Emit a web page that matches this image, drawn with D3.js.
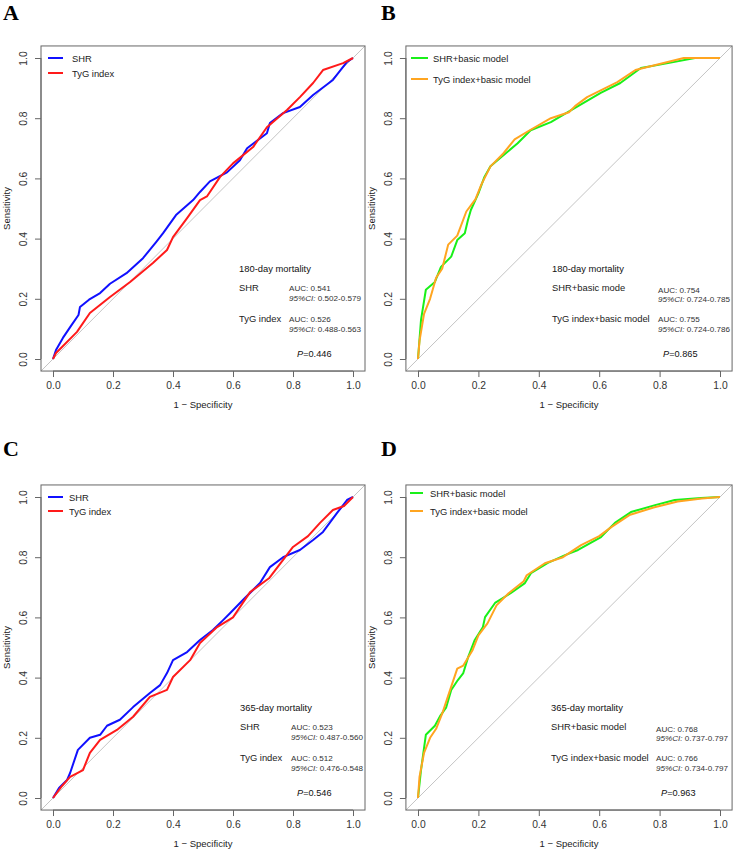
<!DOCTYPE html>
<html>
<head>
<meta charset="utf-8">
<script src="https://cdn.jsdelivr.net/npm/d3@7"></script>
<style>
  body { margin: 0; background: #fff; }
  svg { font-family: "Liberation Sans", Arial, sans-serif; }
</style>
</head>
<body>
<div id="chart"></div>
<script>
// Tick values shared by both axes
var tickValues = [0, 0.2, 0.4, 0.6, 0.8, 1.0];

// ROC points: [1 - specificity, sensitivity]
var shr180 = [[0,0],[0.01,0.03],[0.033,0.07],[0.06,0.11],[0.085,0.146],[0.09,0.173],[0.12,0.197],[0.157,0.219],[0.19,0.25],[0.245,0.285],[0.3,0.335],[0.345,0.39],[0.367,0.418],[0.41,0.478],[0.467,0.528],[0.49,0.555],[0.523,0.59],[0.58,0.62],[0.623,0.66],[0.647,0.70],[0.713,0.75],[0.723,0.784],[0.767,0.817],[0.823,0.837],[0.867,0.877],[0.933,0.927],[0.98,0.987],[1,1]];
var tyg180 = [[0,0],[0.01,0.02],[0.03,0.04],[0.08,0.09],[0.123,0.153],[0.19,0.206],[0.257,0.256],[0.333,0.319],[0.38,0.362],[0.4,0.405],[0.447,0.468],[0.49,0.528],[0.513,0.54],[0.557,0.605],[0.6,0.65],[0.667,0.704],[0.713,0.77],[0.78,0.827],[0.823,0.87],[0.867,0.917],[0.9,0.96],[0.967,0.983],[1,1]];
var shrModel180 = [[0,0],[0.01,0.13],[0.026,0.23],[0.056,0.256],[0.076,0.306],[0.11,0.34],[0.13,0.395],[0.155,0.418],[0.165,0.46],[0.175,0.495],[0.19,0.528],[0.2,0.55],[0.22,0.605],[0.24,0.64],[0.275,0.67],[0.33,0.717],[0.373,0.76],[0.44,0.787],[0.52,0.834],[0.605,0.884],[0.67,0.917],[0.738,0.967],[0.828,0.983],[0.917,1],[1,1]];
var tygModel180 = [[0,0],[0.005,0.06],[0.02,0.15],[0.04,0.2],[0.06,0.27],[0.08,0.3],[0.1,0.38],[0.13,0.41],[0.16,0.49],[0.19,0.53],[0.21,0.58],[0.24,0.64],[0.28,0.68],[0.32,0.73],[0.37,0.76],[0.44,0.8],[0.5,0.82],[0.52,0.84],[0.56,0.87],[0.6,0.89],[0.66,0.92],[0.72,0.96],[0.8,0.98],[0.88,1],[1,1]];
var shr365 = [[0,0],[0.02,0.033],[0.047,0.06],[0.057,0.083],[0.083,0.16],[0.123,0.2],[0.157,0.21],[0.18,0.24],[0.223,0.26],[0.267,0.302],[0.323,0.349],[0.357,0.375],[0.38,0.415],[0.4,0.458],[0.447,0.485],[0.49,0.525],[0.533,0.558],[0.567,0.591],[0.59,0.614],[0.633,0.658],[0.69,0.714],[0.723,0.767],[0.767,0.8],[0.823,0.824],[0.867,0.857],[0.9,0.884],[0.947,0.947],[0.98,0.99],[1,1]];
var tyg365 = [[0,0],[0.03,0.04],[0.057,0.07],[0.1,0.093],[0.123,0.15],[0.157,0.193],[0.213,0.226],[0.267,0.27],[0.323,0.336],[0.38,0.359],[0.4,0.402],[0.457,0.458],[0.49,0.515],[0.547,0.568],[0.6,0.6],[0.657,0.684],[0.72,0.73],[0.8,0.834],[0.85,0.87],[0.89,0.914],[0.933,0.957],[0.97,0.97],[1,1]];
var shrModel365 = [[0,0],[0.01,0.093],[0.026,0.21],[0.056,0.24],[0.073,0.272],[0.093,0.3],[0.11,0.359],[0.132,0.392],[0.15,0.415],[0.166,0.468],[0.188,0.525],[0.215,0.568],[0.222,0.601],[0.255,0.648],[0.308,0.681],[0.354,0.714],[0.374,0.747],[0.43,0.781],[0.487,0.807],[0.53,0.824],[0.606,0.867],[0.652,0.914],[0.705,0.95],[0.785,0.973],[0.85,0.99],[0.937,0.997],[1,1]];
var tygModel365 = [[0,0],[0.005,0.07],[0.02,0.15],[0.04,0.2],[0.06,0.23],[0.08,0.28],[0.1,0.34],[0.13,0.43],[0.15,0.44],[0.18,0.49],[0.2,0.54],[0.23,0.58],[0.26,0.64],[0.3,0.68],[0.35,0.72],[0.36,0.74],[0.42,0.78],[0.48,0.8],[0.54,0.84],[0.6,0.87],[0.64,0.9],[0.7,0.94],[0.78,0.965],[0.86,0.985],[0.94,0.995],[1,1]];

// Labels and statistics
var panelLetters = ["A", "B", "C", "D"];
var legendSimple = ["SHR", "TyG index"];
var legendModel = ["SHR+basic model", "TyG index+basic model"];
var namesB = ["SHR+basic mode", "TyG index+basic model"];
var outcomeTitles = ["180-day mortality", "180-day mortality", "365-day mortality", "365-day mortality"];
var aucA = ["0.541", "0.526"], ciA = ["0.502-0.579", "0.488-0.563"];
var aucB = ["0.754", "0.755"], ciB = ["0.724-0.785", "0.724-0.786"];
var aucC = ["0.523", "0.512"], ciC = ["0.487-0.560", "0.476-0.548"];
var aucD = ["0.768", "0.766"], ciD = ["0.737-0.797", "0.734-0.797"];
var pValues = ["0.446", "0.865", "0.546", "0.963"];

var svgWidth = 735;
var svgHeight = 852;

var svg = d3.select("#chart")
  .append("svg")
  .attr("width", svgWidth)
  .attr("height", svgHeight);

// panel layout (pixel positions of 0 and 1 on each axis)
var panels = [
  { x0: 53, x1: 353, y0: 359, y1: 58, letterX: 3, letterY: 20,
    series: [shr180, tyg180], colors: ["#1010ff", "#ff1a1a"], legend: legendSimple,
    legendX: [48, 63, 72], legendY: [58, 73],
    names: legendSimple, auc: aucA, ci: ciA, textX: 239, statX: 289, pX: 297 },
  { x0: 418, x1: 720, y0: 359, y1: 58, letterX: 381, letterY: 20,
    series: [shrModel180, tygModel180], colors: ["#19f019", "#ffa520"], legend: legendModel,
    legendX: [411, 428, 433], legendY: [58, 79],
    names: namesB, auc: aucB, ci: ciB, textX: 552, statX: 658, pX: 663 },
  { x0: 53, x1: 353, y0: 798, y1: 497, letterX: 3, letterY: 456,
    series: [shr365, tyg365], colors: ["#1010ff", "#ff1a1a"], legend: legendSimple,
    legendX: [48, 63, 69], legendY: [497, 511],
    names: legendSimple, auc: aucC, ci: ciC, textX: 240, statX: 291, pX: 297 },
  { x0: 418, x1: 720, y0: 798, y1: 497, letterX: 381, letterY: 456,
    series: [shrModel365, tygModel365], colors: ["#19f019", "#ffa520"], legend: legendModel,
    legendX: [410, 423, 430], legendY: [493, 511],
    names: legendModel, auc: aucD, ci: ciD, textX: 551, statX: 656, pX: 661 }
];

panels.forEach(function(p, i) {
  var xScale = d3.scaleLinear().domain([0, 1]).range([p.x0, p.x1]);
  var yScale = d3.scaleLinear().domain([0, 1]).range([p.y0, p.y1]);
  var g = svg.append("g");

  var left = xScale(-0.04), right = xScale(1.04);
  var top = yScale(1.04), bottom = yScale(-0.04);

  // panel letter
  svg.append("text")
    .attr("x", p.letterX)
    .attr("y", p.letterY)
    .attr("font-family", "'Liberation Serif', 'Times New Roman', serif")
    .attr("font-weight", "bold")
    .attr("font-size", 22)
    .text(panelLetters[i]);

  // diagonal reference
  g.append("line")
    .attr("x1", xScale(-0.04)).attr("y1", yScale(-0.04))
    .attr("x2", xScale(1.04)).attr("y2", yScale(1.04))
    .attr("stroke", "#c4c4c4")
    .attr("stroke-width", 1);

  // axes
  var bottomAxis = d3.axisBottom(xScale).tickValues(tickValues).tickFormat(d3.format(".1f")).tickSize(6).tickPadding(5);
  var leftAxis = d3.axisLeft(yScale).tickValues(tickValues).tickFormat(d3.format(".1f")).tickSize(6);

  var xg = g.append("g")
    .attr("transform", "translate(0," + bottom + ")")
    .call(bottomAxis);
  var yg = g.append("g")
    .attr("transform", "translate(" + left + ",0)")
    .call(leftAxis);

  [xg, yg].forEach(function(a) {
    a.select(".domain").attr("stroke", "#666");
    a.selectAll(".tick line").attr("stroke", "#666");
    a.selectAll(".tick text")
      .attr("font-family", "'Liberation Sans', Arial, sans-serif")
      .attr("font-size", 10.3)
      .attr("fill", "#333");
  });
  xg.select(".domain").attr("d", "M" + xScale(0) + ",0H" + xScale(1));
  yg.select(".domain").attr("d", "M0," + yScale(0) + "V" + yScale(1));
  yg.selectAll(".tick text")
    .attr("transform", "rotate(-90,-12,0)")
    .attr("x", -12)
    .attr("y", 0)
    .attr("dy", "-0.2em")
    .attr("text-anchor", "middle");

  // frame
  g.append("rect")
    .attr("x", left).attr("y", top)
    .attr("width", right - left).attr("height", bottom - top)
    .attr("fill", "none")
    .attr("stroke", "#666")
    .attr("stroke-width", 1);

  // axis titles
  g.append("text")
    .attr("x", (xScale(0) + xScale(1)) / 2)
    .attr("y", bottom + 37)
    .attr("text-anchor", "middle")
    .attr("font-size", 9.5)
    .attr("fill", "#222")
    .text("1 \u2212 Specificity");

  g.append("text")
    .attr("transform", "translate(" + (left - 31) + "," + ((top + bottom) / 2) + ") rotate(-90)")
    .attr("text-anchor", "middle")
    .attr("font-size", 9.5)
    .attr("fill", "#222")
    .text("Sensitivity");

  // ROC curves
  var line = d3.line()
    .x(function(d) { return xScale(d[0]); })
    .y(function(d) { return yScale(d[1]); });

  p.series.forEach(function(s, k) {
    g.append("path")
      .datum(s)
      .attr("d", line)
      .attr("fill", "none")
      .attr("stroke", p.colors[k])
      .attr("stroke-width", 2)
      .attr("stroke-linejoin", "round");
  });

  // legend
  p.legend.forEach(function(label, k) {
    g.append("line")
      .attr("x1", p.legendX[0]).attr("x2", p.legendX[1])
      .attr("y1", p.legendY[k]).attr("y2", p.legendY[k])
      .attr("stroke", p.colors[k])
      .attr("stroke-width", 2);
    g.append("text")
      .attr("x", p.legendX[2])
      .attr("y", p.legendY[k] + 3.5)
      .attr("font-size", 9.4)
      .attr("fill", "#222")
      .text(label);
  });

  // annotation block
  g.append("text")
    .attr("x", p.textX).attr("y", bottom - 99)
    .attr("font-size", 9.4).attr("fill", "#111")
    .text(outcomeTitles[i]);

  var rowY = [bottom - 80, bottom - 49];
  p.names.forEach(function(name, k) {
    g.append("text")
      .attr("x", p.textX).attr("y", rowY[k])
      .attr("font-size", 9.4).attr("fill", "#222")
      .text(name);
    g.append("text")
      .attr("x", p.statX).attr("y", rowY[k] + (i % 2 === 1 && k === 0 ? 2 : 0))
      .attr("font-size", 8.1).attr("fill", "#333")
      .text("AUC: " + p.auc[k]);
    var ci = g.append("text")
      .attr("x", p.statX).attr("y", rowY[k] + 10 + (i % 2 === 1 && k === 0 ? 1 : 0))
      .attr("font-size", 8.1).attr("fill", "#333");
    ci.append("tspan").attr("font-style", "italic").text("95%CI:");
    ci.append("tspan").text(" " + p.ci[k]);
  });

  var pt = g.append("text")
    .attr("x", p.pX).attr("y", bottom - 14)
    .attr("font-size", 9.2).attr("fill", "#111");
  pt.append("tspan").attr("font-style", "italic").text("P");
  pt.append("tspan").text("=" + pValues[i]);
});
</script>
</body>
</html>
